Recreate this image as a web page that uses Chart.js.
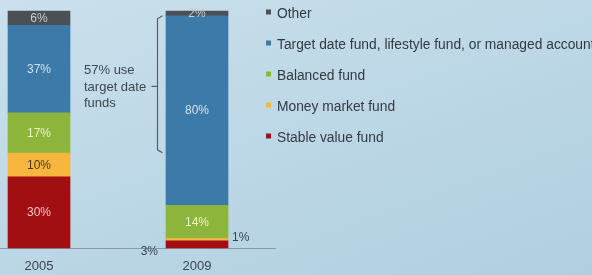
<!DOCTYPE html>
<html>
<head>
<meta charset="utf-8">
<script src="https://cdn.jsdelivr.net/npm/chart.js@4.4.1/dist/chart.umd.min.js"></script>
<style>
  html, body { margin: 0; padding: 0; }
  #wrap {
    position: relative; width: 592px; height: 275px;
    background: linear-gradient(160deg, #cbe0ec 0%, #bcd7e6 50%, #afcfe1 100%);
  }
</style>
</head>
<body>
<div id="wrap"><canvas id="myChart"></canvas></div>
<script>
// values (percent of participants)
var years = ['2005', '2009'];
var stableValue = [30, 3];
var moneyMarket = [10, 1];
var balanced = [17, 14];
var targetDate = [37, 80];
var other = [6, 2];

var seriesNames = ['Stable value fund', 'Money market fund', 'Balanced fund',
  'Target date fund, lifestyle fund, or managed account', 'Other'];
var noteLines = ['57% use', 'target date', 'funds'];
var noteShare = 57;

var FONT = '"Liberation Sans", Arial, sans-serif';

// labels inside the bars, small ones pushed outside
var barLabels = {
  id: 'barLabels',
  afterDatasetsDraw: function(chart) {
    var ctx = chart.ctx;
    ctx.save();
    ctx.font = '12px ' + FONT;
    ctx.textBaseline = 'middle';
    chart.data.datasets.forEach(function(ds, di) {
      var meta = chart.getDatasetMeta(di);
      meta.data.forEach(function(bar, i) {
        var v = ds.data[i];
        var h = bar.base - bar.y;
        var txt = v + '%';
        if (h >= 12 || di == 4) {
          ctx.fillStyle = ds.labelColor;
          ctx.textAlign = 'center';
          ctx.fillText(txt, bar.x, (bar.y + bar.base) / 2 + 0.5);
        } else if (di == 0) {
          ctx.fillStyle = '#3a4650';
          ctx.textAlign = 'right';
          ctx.fillText(txt, bar.x - bar.width / 2 - 8, bar.base + 4);
        } else {
          ctx.fillStyle = '#3a4650';
          ctx.textAlign = 'left';
          ctx.fillText(txt, bar.x + bar.width / 2 + 4, bar.y - 1);
        }
      });
    });
    ctx.restore();
  }
};

// baseline, bracket note and legend
var extras = {
  id: 'extras',
  beforeDatasetsDraw: function(chart) {
    var ctx = chart.ctx;
    var y0 = chart.scales.y.getPixelForValue(0);
    ctx.save();
    ctx.strokeStyle = '#8a9aa5';
    ctx.lineWidth = 1;
    ctx.beginPath();
    ctx.moveTo(0, Math.round(y0) + 0.5);
    ctx.lineTo(276, Math.round(y0) + 0.5);
    ctx.stroke();
    ctx.restore();
  },
  afterDraw: function(chart) {
    var ctx = chart.ctx;
    var ys = chart.scales.y;
    var bar = chart.getDatasetMeta(3).data[1];
    var topVal = 100 - other[1];
    var yTop = ys.getPixelForValue(topVal);
    var yBot = ys.getPixelForValue(topVal - noteShare) + 2;
    var bx = Math.round(bar.x - bar.width / 2 - 9) + 0.5;
    ctx.save();
    ctx.strokeStyle = '#55606a';
    ctx.lineWidth = 1.2;
    ctx.beginPath();
    ctx.moveTo(bx + 5, yTop);
    ctx.lineTo(bx, yTop + 3);
    ctx.lineTo(bx, yBot - 3);
    ctx.lineTo(bx + 5, yBot);
    ctx.moveTo(bx, (yTop + yBot) / 2 + 2);
    ctx.lineTo(bx - 6, (yTop + yBot) / 2 + 2);
    ctx.stroke();
    ctx.fillStyle = '#3d4852';
    ctx.font = '13px ' + FONT;
    ctx.textAlign = 'left';
    ctx.textBaseline = 'middle';
    var mid = (yTop + yBot) / 2 + 2;
    noteLines.forEach(function(t, k) {
      ctx.fillText(t, 84, mid + 1 + (k - 1) * 16.5);
    });

    // legend, top item = last dataset
    ctx.font = '13.8px ' + FONT;
    var dss = chart.data.datasets.slice().reverse();
    dss.forEach(function(ds, k) {
      var cy = 14.5 + k * 31;
      ctx.fillStyle = ds.backgroundColor;
      ctx.fillRect(266, cy - 5, 5, 5);
      ctx.fillStyle = '#333a42';
      ctx.fillText(ds.label, 277, cy);
    });
    ctx.restore();
  }
};

var colors = ['#a20f13', '#f6b640', '#8db43b', '#3c7aaa', '#4b5056'];
var labelColors = ['#f4c4c4', '#4a3a20', '#eef2c4', '#cfe0ee', '#c9ccd0'];
var series = [stableValue, moneyMarket, balanced, targetDate, other];

var ctx = document.getElementById('myChart');
var myChart = new Chart(ctx, {
  type: 'bar',
  data: {
    labels: years,
    datasets: series.map(function(d, i) {
      return {
        label: seriesNames[i],
        data: d,
        backgroundColor: colors[i],
        labelColor: labelColors[i],
        borderWidth: 0,
        barThickness: 62,
        clip: false
      };
    })
  },
  options: {
    responsive: true,
    maintainAspectRatio: false,
    animation: false,
    layout: { padding: { left: 39, right: 395, top: 11, bottom: 0 } },
    plugins: { legend: { display: false }, tooltip: { enabled: false } },
    scales: {
      x: {
        stacked: true,
        offset: false,
        grid: { display: false, drawTicks: false },
        border: { display: false },
        ticks: { color: '#3a4650', font: { family: FONT, size: 13 }, padding: 11 },
        afterFit: function(s) { s.height = 27; }
      },
      y: { stacked: true, min: 0, max: 100, display: false }
    }
  },
  plugins: [barLabels, extras]
});
</script>
</body>
</html>
